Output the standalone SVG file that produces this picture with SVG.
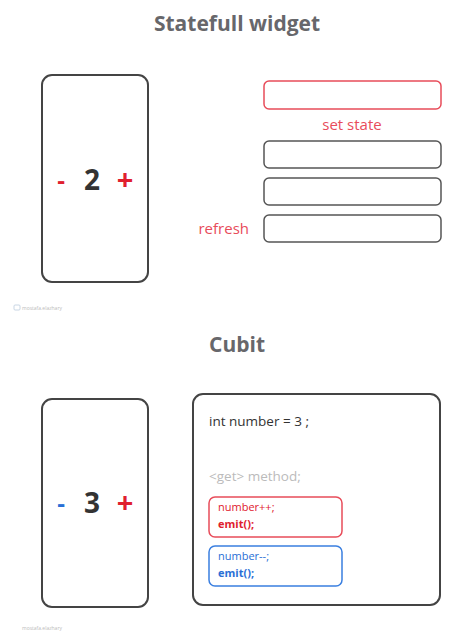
<svg xmlns="http://www.w3.org/2000/svg" width="474" height="632" viewBox="0 0 474 632">
<style>
text{font-family:"Open Sans","Noto Sans","Liberation Sans",sans-serif}
.title{font-size:21px;font-weight:700;fill:#67676b;text-anchor:middle}
.phone{fill:#fff;stroke:#444;stroke-width:2}
.box{fill:#fff;stroke:#555;stroke-width:1.5}
.rbox{fill:#fff;stroke:#e84c5a;stroke-width:1.5}
.bbox{fill:#fff;stroke:#3a7fe0;stroke-width:1.5}
.num{font-size:28px;font-weight:700;fill:#333;text-anchor:middle}
.op{font-size:24px;font-weight:700;text-anchor:middle}
.plus{font-size:29px}
.red{fill:#e0202e}
.blue{fill:#2a6fd6}
.lbl{font-size:15px;fill:#e84c5a}
.code{font-size:13.5px;fill:#333}
.small{font-size:11px}
.wm{font-size:5px;fill:#bbb}
</style>
<rect width="474" height="632" fill="#fff"/>
<text class="title" x="237" y="31">Statefull widget</text>
<g id="phone1">
<rect class="phone" x="42" y="75" width="106" height="207" rx="10"/>
<text class="op red" x="61" y="189">-</text>
<text class="num" x="92" y="190">2</text>
<text class="op plus red" x="125" y="190">+</text>
</g>
<g id="stateBox">
<rect class="rbox" x="264" y="81" width="177" height="28" rx="5"/>
</g>
<text class="lbl" x="352" y="130" text-anchor="middle">set state</text>
<g id="box2"><rect class="box" x="264" y="141" width="177" height="27" rx="5"/></g>
<g id="box3"><rect class="box" x="264" y="178" width="177" height="27" rx="5"/></g>
<g id="box4"><rect class="box" x="264" y="215" width="177" height="27" rx="5"/></g>
<text class="lbl" x="249" y="234" text-anchor="end">refresh</text>
<g id="wm1"><rect x="14" y="305" width="6" height="5" rx="1" fill="none" stroke="#bcd" stroke-width="0.8"/><text class="wm" x="22" y="310">mostafa.elazhary</text></g>
<text class="title" x="237" y="352">Cubit</text>
<g id="phone2">
<rect class="phone" x="42" y="399" width="106" height="208" rx="10"/>
<text class="op blue" x="61" y="512">-</text>
<text class="num" x="92" y="513">3</text>
<text class="op plus red" x="125" y="513">+</text>
</g>
<g id="cubitBox">
<rect class="phone" x="193" y="394" width="247" height="211" rx="10"/>
<text class="code" x="209" y="426">int number = 3 ;</text>
<text class="code" x="209" y="481" style="fill:#bbb">&lt;get&gt; method;</text>
</g>
<g id="incBox">
<rect class="rbox" x="209" y="497" width="133" height="40" rx="6"/>
<text class="small" x="218" y="511" style="fill:#e0202e">number++;</text>
<text class="small" x="218" y="528" font-weight="700" style="fill:#e0202e">emit();</text>
</g>
<g id="decBox">
<rect class="bbox" x="209" y="546" width="133" height="40" rx="6"/>
<text class="small" x="218" y="560" style="fill:#2a6fd6">number--;</text>
<text class="small" x="218" y="577" font-weight="700" style="fill:#2a6fd6">emit();</text>
</g>
<g id="wm2"><text class="wm" x="22" y="630">mostafa.elazhary</text></g>
<g id="connectors"></g>
</svg>
